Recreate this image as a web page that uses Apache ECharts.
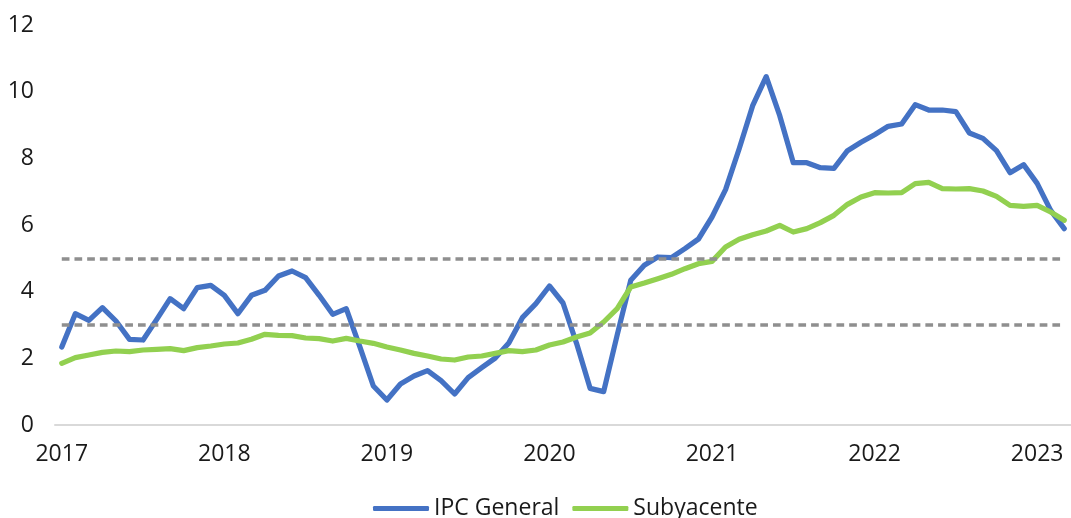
<!DOCTYPE html>
<html>
<head>
<meta charset="utf-8">
<script src="https://cdn.jsdelivr.net/npm/echarts@6/dist/echarts.min.js"></script>
<style>
html,body{margin:0;padding:0;background:#fff;}
#chart{width:1071px;height:518px;}
</style>
</head>
<body>
<div id="chart"></div>
<script>
// Categories: monthly, Jan 2017 .. Mar 2023
const years = ['2017','2018','2019','2020','2021','2022','2023'];
const months = [];
years.forEach(function(y){
  for (let m = 1; m <= 12; m++) {
    if (y === '2023' && m > 3) break;
    months.push(y + '-' + (m < 10 ? '0' + m : m));
  }
});

const ipcGeneral = [
  2.34, 3.34, 3.14, 3.52, 3.12, 2.57, 2.55, 3.16, 3.79, 3.49, 4.12, 4.19,
  3.89, 3.34, 3.89, 4.04, 4.47, 4.62, 4.42, 3.89, 3.32, 3.49, 2.35, 1.17,
  0.75, 1.23, 1.47, 1.63, 1.33, 0.93, 1.42, 1.72, 2.01, 2.46, 3.22, 3.64,
  4.17, 3.66, 2.45, 1.10, 1.00, 2.70, 4.34, 4.79, 5.04, 5.02, 5.29, 5.58,
  6.24, 7.06, 8.28, 9.58, 10.45, 9.28, 7.87, 7.87, 7.72, 7.70, 8.23, 8.48,
  8.71, 8.96, 9.03, 9.61, 9.45, 9.45, 9.40, 8.76, 8.60, 8.23, 7.57, 7.81,
  7.25, 6.44, 5.89
];

const subyacente = [
  1.85, 2.02, 2.10, 2.18, 2.22, 2.20, 2.25, 2.27, 2.29, 2.23, 2.32, 2.37,
  2.43, 2.46, 2.57, 2.72, 2.69, 2.68, 2.61, 2.59, 2.52, 2.60, 2.52, 2.45,
  2.34, 2.25, 2.15, 2.07, 1.98, 1.95, 2.04, 2.07, 2.15, 2.23, 2.20, 2.25,
  2.40, 2.49, 2.64, 2.76, 3.09, 3.49, 4.14, 4.26, 4.39, 4.52, 4.69, 4.84,
  4.91, 5.34, 5.57, 5.71, 5.82, 5.99, 5.79, 5.89, 6.07, 6.29, 6.62, 6.84,
  6.97, 6.96, 6.97, 7.24, 7.28, 7.09, 7.08, 7.09, 7.02, 6.86, 6.59, 6.56,
  6.59, 6.39, 6.14
];

// Target band limits
const metaInferior = 3;
const metaSuperior = 5;

const yTicks = { min: 0, max: 12, interval: 2 };
const seriesNames = ['IPC General', 'Subyacente'];

const FONT = '"Open Sans", "Noto Sans", sans-serif';
const chart = echarts.init(document.getElementById('chart'), null, { renderer: 'canvas' });

const first = months[0], last = months[months.length - 1];

chart.setOption({
  animation: false,
  backgroundColor: '#ffffff',
  grid: { left: 55, right: -4, top: 25, bottom: 93, containLabel: false },
  legend: {
    data: seriesNames,
    top: 492,
    left: 368,
    icon: 'roundRect',
    itemWidth: 56,
    itemHeight: 5,
    itemGap: 13,
    textStyle: { fontFamily: FONT, fontSize: 23, color: '#1a1a1a' }
  },
  xAxis: {
    type: 'category',
    data: months,
    boundaryGap: true,
    axisLine: { show: true, lineStyle: { color: '#d9d9d9', width: 2 } },
    axisTick: { show: false },
    splitLine: { show: false },
    axisLabel: {
      interval: 11,
      margin: 18,
      fontFamily: FONT,
      fontSize: 23,
      color: '#1a1a1a',
      formatter: function (v) { return v.slice(0, 4); }
    }
  },
  yAxis: {
    type: 'value',
    min: yTicks.min,
    max: yTicks.max,
    interval: yTicks.interval,
    axisLine: { show: false },
    axisTick: { show: false },
    splitLine: { show: false },
    axisLabel: { margin: 21, fontFamily: FONT, fontSize: 23, color: '#1a1a1a' }
  },
  series: [
    {
      name: seriesNames[0],
      type: 'line',
      data: ipcGeneral,
      showSymbol: false,
      symbol: 'none',
      color: '#4472C4',
      lineStyle: { color: '#4472C4', width: 5.25, cap: 'round', join: 'round' },
      markLine: {
        silent: true,
        symbol: 'none',
        label: { show: false },
        lineStyle: { color: '#8f8f8f', width: 3.5, type: [7.7, 5] },
        data: [
          [{ xAxis: first, yAxis: metaInferior }, { xAxis: last, yAxis: metaInferior }],
          [{ xAxis: first, yAxis: metaSuperior }, { xAxis: last, yAxis: metaSuperior }]
        ]
      },
      z: 2
    },
    {
      name: seriesNames[1],
      type: 'line',
      data: subyacente,
      showSymbol: false,
      symbol: 'none',
      color: '#92D050',
      lineStyle: { color: '#92D050', width: 5.25, cap: 'round', join: 'round' },
      z: 3
    }
  ]
});
</script>
</body>
</html>
